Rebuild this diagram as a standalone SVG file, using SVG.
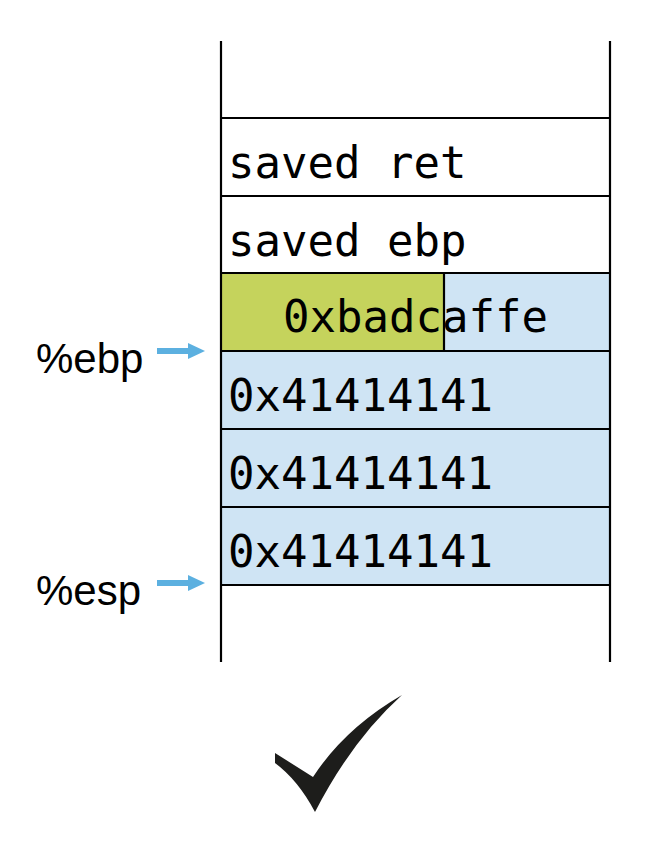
<svg xmlns="http://www.w3.org/2000/svg" width="656" height="862" viewBox="0 0 656 862">
<style>
.mono{font-family:"DejaVu Sans Mono","Liberation Mono",monospace;font-size:44px;fill:#000}
.lbl{font-family:"Liberation Sans",Arial,sans-serif;font-size:42px;fill:#000}
.ln{stroke:#000;stroke-width:2.2;fill:none}
.blue{fill:#cfe4f4}
.green{fill:#c5d35c}
.arr{stroke:#5cb0e0;stroke-width:6;fill:none}
.head{fill:#5cb0e0}
</style>
<rect width="656" height="862" fill="#fff"/>
<g id="stack">
<g id="slot-top"/>
<g id="slot-ret"><text class="mono" x="228" y="178">saved ret</text></g>
<g id="slot-ebp"><text class="mono" x="228" y="256">saved ebp</text></g>
<g id="slot-caffe">
<rect class="blue" x="221" y="273" width="389" height="78"/>
<rect class="green" x="221" y="273" width="223" height="78"/>
<line class="ln" x1="444" y1="273" x2="444" y2="351"/>
<text class="mono" x="283" y="332">0xbadcaffe</text>
</g>
<g id="slot-a1"><rect class="blue" x="221" y="351" width="389" height="78"/><text class="mono" x="228" y="411">0x41414141</text></g>
<g id="slot-a2"><rect class="blue" x="221" y="429" width="389" height="78"/><text class="mono" x="228" y="489">0x41414141</text></g>
<g id="slot-a3"><rect class="blue" x="221" y="507" width="389" height="78"/><text class="mono" x="228" y="567">0x41414141</text></g>
<g id="frame">
<line class="ln" x1="221" y1="41" x2="221" y2="662"/>
<line class="ln" x1="610" y1="41" x2="610" y2="662"/>
<line class="ln" x1="221" y1="118" x2="610" y2="118"/>
<line class="ln" x1="221" y1="196" x2="610" y2="196"/>
<line class="ln" x1="221" y1="273" x2="610" y2="273"/>
<line class="ln" x1="221" y1="351" x2="610" y2="351"/>
<line class="ln" x1="221" y1="429" x2="610" y2="429"/>
<line class="ln" x1="221" y1="507" x2="610" y2="507"/>
<line class="ln" x1="221" y1="585" x2="610" y2="585"/>
</g>
</g>
<g id="label-ebp"><text class="lbl" x="36" y="373">%ebp</text></g>
<g id="label-esp"><text class="lbl" x="36" y="605">%esp</text></g>
<g id="connectors">
<line class="arr" x1="157" y1="351" x2="190" y2="351"/>
<polygon class="head" points="188,343 205,351 188,359"/>
<line class="arr" x1="157" y1="583" x2="190" y2="583"/>
<polygon class="head" points="188,575 205,583 188,591"/>
</g>
<g id="check">
<path d="M275,753 L313,777 Q345,728 402,695 Q352,740 315,812 Q298,780 275,763 Z" fill="#1d1d1b"/>
</g>
</svg>
